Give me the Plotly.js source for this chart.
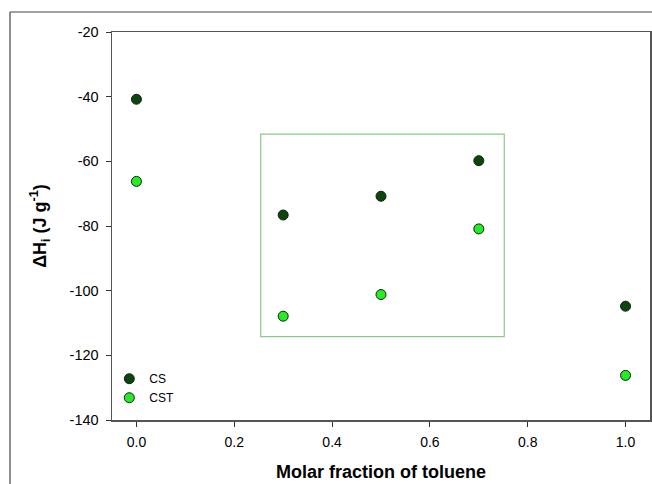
<!DOCTYPE html>
<html>
<head>
<meta charset="utf-8">
<script src="https://cdn.plot.ly/plotly-3.0.1.min.js"></script>
<style>html,body{margin:0;padding:0;background:#fff;}#chart{width:652px;height:484px;}</style>
</head>
<body>
<div id="chart"></div>
<script>
const xFraction = [0.0, 0.3, 0.5, 0.7, 1.0];
const csValues = [-40.8, -76.6, -70.8, -59.8, -104.8];
const cstValues = [-66.2, -107.9, -101.2, -80.9, -126.2];
const seriesNames = ['CS', 'CST'];
const xTicks = [0.0, 0.2, 0.4, 0.6, 0.8, 1.0];
const xTickLabels = ['0.0', '0.2', '0.4', '0.6', '0.8', '1.0'];
const yTicks = [-140, -120, -100, -80, -60, -40, -20];
const yTickLabels = ['-140', '-120', '-100', '-80', '-60', '-40', '-20'];
const boxX = [0.254, 0.752];
const boxY = [-51.6, -114.2];

const mk = (c) => ({size: 10, color: c, line: {color: '#1a1a1a', width: 1}});
const traces = [
  {x: xFraction, y: csValues, name: seriesNames[0], mode: 'markers', type: 'scatter', marker: mk('#0b470b'), cliponaxis: false},
  {x: xFraction, y: cstValues, name: seriesNames[1], mode: 'markers', type: 'scatter', marker: mk('#22ee22'), cliponaxis: false}
];

const layout = {
  width: 652, height: 484,
  margin: {l: 112, r: 2, t: 32, b: 64},
  paper_bgcolor: '#ffffff', plot_bgcolor: '#ffffff',
  font: {family: 'Liberation Sans, Arial, sans-serif', size: 14, color: '#000'},
  showlegend: true,
  legend: {x: -0.005, y: 0.02, xanchor: 'left', yanchor: 'bottom', bgcolor: 'rgba(0,0,0,0)', font: {size: 12}, itemwidth: 30, tracegroupgap: 0},
  xaxis: {
    range: [-0.05, 1.05], tickvals: xTicks, ticktext: xTickLabels,
    showgrid: false, zeroline: false, showline: true, linecolor: '#555', linewidth: 1.5, mirror: true,
    ticks: 'outside', ticklen: 5, tickcolor: '#333', tickfont: {size: 14}, ticklabelstandoff: 4,
    title: {text: '<b>Molar fraction of toluene</b>', font: {size: 18}, standoff: 16}
  },
  yaxis: {
    range: [-140, -20], tickvals: yTicks, ticktext: yTickLabels,
    showgrid: false, zeroline: false, showline: true, linecolor: '#555', linewidth: 1.5, mirror: true,
    ticks: 'outside', ticklen: 5, tickcolor: '#333', tickfont: {size: 14.5}, ticklabelstandoff: 4,
    title: {text: '<b>ΔH<sub>i</sub> (J g<sup>-1</sup>)</b>', font: {size: 18}, standoff: 18}
  },
  shapes: [
    {type: 'rect', xref: 'x', yref: 'y', x0: boxX[0], x1: boxX[1], y0: boxY[0], y1: boxY[1], line: {color: '#8cc88c', width: 1.2}},
    {type: 'line', xref: 'paper', yref: 'paper', x0: -0.1896, x1: 1.01, y0: 1.0515, y1: 1.0515, line: {color: '#444', width: 1.2}},
    {type: 'line', xref: 'paper', yref: 'paper', x0: -0.1896, x1: -0.1896, y0: 1.0515, y1: -0.2, line: {color: '#444', width: 1.2}}
  ]
};

Plotly.newPlot('chart', traces, layout, {displayModeBar: false, staticPlot: true});
</script>
</body>
</html>
